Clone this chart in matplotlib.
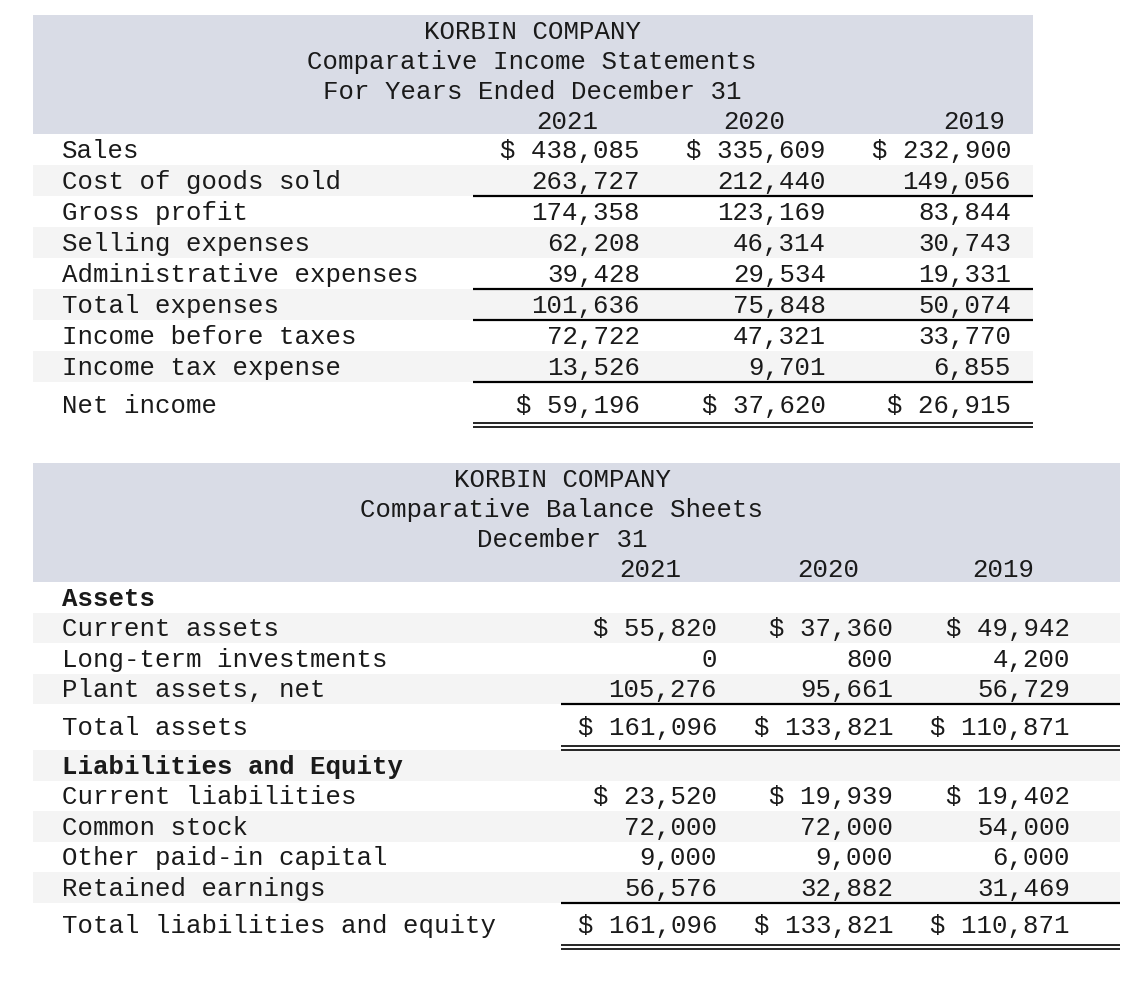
#!/usr/bin/env python3
from __future__ import annotations

from typing import List, Optional

import matplotlib

matplotlib.use("Agg")
import matplotlib.pyplot as plt
from matplotlib.patches import Rectangle

# ---- data -------------------------------------------------------------------
YEARS: List[str] = ["2021", "2020", "2019"]

INCOME_TITLE: List[str] = ["KORBIN COMPANY", "Comparative Income Statements", "For Years Ended December 31"]
INCOME_LABELS: List[str] = [
    "Sales",
    "Cost of goods sold",
    "Gross profit",
    "Selling expenses",
    "Administrative expenses",
    "Total expenses",
    "Income before taxes",
    "Income tax expense",
    "Net income",
]
INCOME_2021: List[int] = [438085, 263727, 174358, 62208, 39428, 101636, 72722, 13526, 59196]
INCOME_2020: List[int] = [335609, 212440, 123169, 46314, 29534, 75848, 47321, 9701, 37620]
INCOME_2019: List[int] = [232900, 149056, 83844, 30743, 19331, 50074, 33770, 6855, 26915]
INCOME_DOLLAR_ROWS: List[int] = [0, 8]
INCOME_UNDERLINE_ROWS: List[int] = [1, 4, 5, 7]
INCOME_TOTAL_ROWS: List[int] = [8]

BALANCE_TITLE: List[str] = ["KORBIN COMPANY", "Comparative Balance Sheets", "December 31"]
BALANCE_LABELS: List[str] = [
    "Assets",
    "Current assets",
    "Long-term investments",
    "Plant assets, net",
    "Total assets",
    "Liabilities and Equity",
    "Current liabilities",
    "Common stock",
    "Other paid-in capital",
    "Retained earnings",
    "Total liabilities and equity",
]
BALANCE_2021: List[Optional[int]] = [None, 55820, 0, 105276, 161096, None, 23520, 72000, 9000, 56576, 161096]
BALANCE_2020: List[Optional[int]] = [None, 37360, 800, 95661, 133821, None, 19939, 72000, 9000, 32882, 133821]
BALANCE_2019: List[Optional[int]] = [None, 49942, 4200, 56729, 110871, None, 19402, 54000, 6000, 31469, 110871]
BALANCE_DOLLAR_ROWS: List[int] = [1, 4, 6, 10]
BALANCE_BOLD_ROWS: List[int] = [0, 5]
BALANCE_UNDERLINE_ROWS: List[int] = [3, 9]
BALANCE_TOTAL_ROWS: List[int] = [4, 10]

# ---- style ------------------------------------------------------------------
W, H = 1142, 982
FONT = ["Liberation Mono", "DejaVu Sans Mono"]
FS = 18.5
TEXT = "#1a1a1a"
BAND = "#d9dce6"
STRIPE = "#f4f4f4"


def _fmt(v: Optional[int], dollar: bool) -> str:
    if v is None:
        return ""
    s = f"{v:,}"
    return f"$ {s}" if dollar else s


def _draw_table(
    ax,
    title: List[str],
    labels: List[str],
    cols: List[List[Optional[int]]],
    dollar_rows: List[int],
    underline_rows: List[int],
    total_rows: List[int],
    bold_rows: List[int],
    x0: float,
    x1: float,
    top: float,
    title_cx: float,
    year_cx: List[float],
    col_right: List[float],
    line_x0: float,
    row_h: float,
    total_h: float,
) -> None:
    band_h = 119
    ax.add_patch(Rectangle((x0, top), x1 - x0, band_h, color=BAND, lw=0, zorder=0))
    for i, line in enumerate(title):
        ax.text(title_cx, top + 17 + 30 * i, line, ha="center", va="center",
                fontsize=FS, family=FONT, color=TEXT)
    for cx, yr in zip(year_cx, YEARS):
        ax.text(cx, top + 107, yr, ha="center", va="center", fontsize=FS, family=FONT, color=TEXT)

    y = top + band_h
    for i, label in enumerate(labels):
        h = total_h if i in total_rows else row_h
        if i % 2 == 1:
            ax.add_patch(Rectangle((x0, y), x1 - x0, h, color=STRIPE, lw=0, zorder=0))
        cy = y + (24 if i in total_rows else h / 2 + 1.5)
        weight = "bold" if i in bold_rows else "normal"
        ax.text(62, cy, label, ha="left", va="center", fontsize=FS, family=FONT,
                color=TEXT, fontweight=weight)
        for xr, col in zip(col_right, cols):
            ax.text(xr, cy, _fmt(col[i], i in dollar_rows), ha="right", va="center",
                    fontsize=FS, family=FONT, color=TEXT)
        if i in underline_rows:
            ax.plot([line_x0, x1], [y + h, y + h], color="black", lw=1.6, solid_capstyle="butt")
        if i in total_rows:
            for dy in (h - 4, h):
                ax.plot([line_x0, x1], [y + dy, y + dy], color="black", lw=1.2, solid_capstyle="butt")
        y += h


def main() -> int:
    fig = plt.figure(figsize=(W / 100, H / 100), dpi=100)
    ax = fig.add_axes([0, 0, 1, 1])
    ax.set_xlim(0, W)
    ax.set_ylim(H, 0)
    ax.axis("off")

    _draw_table(
        ax, INCOME_TITLE, INCOME_LABELS, [INCOME_2021, INCOME_2020, INCOME_2019],
        INCOME_DOLLAR_ROWS, INCOME_UNDERLINE_ROWS, INCOME_TOTAL_ROWS, [],
        x0=33, x1=1033, top=15, title_cx=532, year_cx=[567, 754, 974],
        col_right=[640, 826, 1011], line_x0=473, row_h=31, total_h=45,
    )
    _draw_table(
        ax, BALANCE_TITLE, BALANCE_LABELS, [BALANCE_2021, BALANCE_2020, BALANCE_2019],
        BALANCE_DOLLAR_ROWS, BALANCE_UNDERLINE_ROWS, BALANCE_TOTAL_ROWS, BALANCE_BOLD_ROWS,
        x0=33, x1=1120, top=463, title_cx=562, year_cx=[650, 828, 1003],
        col_right=[717, 893, 1070], line_x0=561, row_h=30.5, total_h=46,
    )

    fig.savefig("out.png", dpi=100, facecolor="white")
    plt.close(fig)
    return 0


if __name__ == "__main__":
    raise SystemExit(main())
